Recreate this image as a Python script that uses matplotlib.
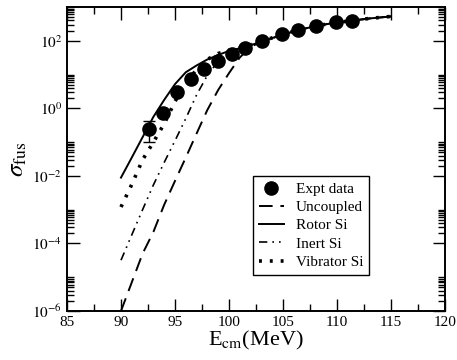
"""Fusion cross section vs E_cm: expt data and coupled-channel curves."""
import matplotlib
matplotlib.use("Agg")
import matplotlib.pyplot as plt
import numpy as np
from matplotlib.ticker import FixedLocator, FuncFormatter

plt.rcParams["font.family"] = ["Liberation Serif", "DejaVu Serif"]
plt.rcParams["mathtext.fontset"] = "stix"

# experimental data
e_exp = [92.6, 93.9, 95.2, 96.5, 97.7, 99.0, 100.25, 101.5, 103.1,
         104.9, 106.4, 108.1, 109.9, 111.4]
sig_exp = [0.245, 0.75, 3.1, 7.2, 14.7, 25, 40, 63, 98,
           155, 210, 265, 350, 392]
err_lo = [0.145, 0, 0, 0, 0, 0, 0, 0, 0, 0, 0, 0, 0, 0]
err_hi = [0.165, 0, 0, 0, 0, 0, 0, 0, 0, 0, 0, 0, 0, 0]

# calculations
e_calc = [90, 91, 92, 93, 94, 95, 96, 97, 98, 99, 100, 101, 102, 103,
          104, 105, 106, 107, 108, 109, 110, 111, 112, 113, 114, 115]
sig_uncoupled = [1.0e-6, 7.1e-6, 5.0e-5, 2.2e-4, 1.4e-3, 7.1e-3, 0.035,
                 0.18, 0.9, 3.5, 11, 32, 66, 93, 120, 151, 190, 229, 269,
                 309, 347, 380, 417, 457, 490, 525]
sig_rotor = [8.9e-3, 0.035, 0.14, 0.56, 1.78, 5.2, 11.7, 18.6, 28, 38, 50,
             60, 74, 93, 120, 151, 190, 229, 269, 309, 347, 380, 417, 457,
             490, 525]
sig_inert = [3.2e-5, 1.8e-4, 1.0e-3, 5.4e-3, 0.025, 0.11, 0.5, 2.5, 9.5,
             25, 45, 58, 74, 93, 120, 151, 190, 229, 269, 309, 347, 380,
             417, 457, 490, 525]
sig_vibrator = [1.2e-3, 5.6e-3, 0.03, 0.1, 0.35, 1.6, 5.6, 14, 28, 42, 52,
                62, 76, 95, 122, 153, 192, 230, 270, 310, 348, 381, 418,
                458, 491, 526]

fig = plt.figure(figsize=(4.57, 3.6), dpi=100)
ax = fig.add_axes([0.1466, 0.136, 0.8271, 0.8446])

ax.plot(e_calc, sig_uncoupled, color="black", lw=1.4, dashes=(7, 4),
        label="Uncoupled")
ax.plot(e_calc, sig_rotor, color="black", lw=1.4, label="Rotor Si")
ax.plot(e_calc, sig_inert, color="black", lw=1.2,
        dashes=(5, 3, 1, 3, 1, 3), label="Inert Si")
ax.plot(e_calc, sig_vibrator, color="black", lw=2.6, dashes=(0.8, 2.2),
        label="Vibrator Si")
ax.errorbar(e_exp, sig_exp, yerr=[err_lo, err_hi], fmt="none",
            ecolor="black", capsize=4, elinewidth=1, capthick=1)
ax.plot(e_exp, sig_exp, "o", color="black", ms=9.5, label="Expt data")

ax.set_yscale("log")
ax.set_xlim(85, 120)
ax.set_ylim(1e-6, 1e3)

ax.xaxis.set_major_locator(FixedLocator(np.arange(85, 121, 5)))
ax.xaxis.set_minor_locator(FixedLocator(np.arange(87.5, 120, 5)))
majors = [1e-6, 1e-4, 1e-2, 1e0, 1e2]
ax.yaxis.set_major_locator(FixedLocator(majors))
minors = [k * m for m in majors for k in range(2, 11)]
ax.yaxis.set_minor_locator(FixedLocator(minors))
ax.yaxis.set_major_formatter(
    FuncFormatter(lambda v, p: r"$10^{%d}$" % round(np.log10(v))))
ax.yaxis.set_minor_formatter(FuncFormatter(lambda v, p: ""))

ax.tick_params(which="both", direction="in", top=True, right=True,
               labelsize=11, width=1)
ax.tick_params(which="major", length=9)
ax.tick_params(which="minor", length=5)
for s in ax.spines.values():
    s.set_linewidth(1.4)

ax.set_xlabel(r"E$_{\rm cm}$(MeV)", fontsize=16, labelpad=0)
ax.set_ylabel(r"$\sigma_{\rm fus}$", fontsize=18, labelpad=2)

handles, labels = ax.get_legend_handles_labels()
order = [4, 0, 1, 2, 3]
leg = ax.legend([handles[i] for i in order], [labels[i] for i in order],
                loc="lower left", bbox_to_anchor=(0.492, 0.118),
                borderaxespad=0, fontsize=11, frameon=True, fancybox=False,
                edgecolor="black", framealpha=1, handlelength=1.6,
                borderpad=0.4, labelspacing=0.3, handletextpad=0.8)
leg.get_frame().set_linewidth(1)

fig.savefig("out.png", dpi=100)
